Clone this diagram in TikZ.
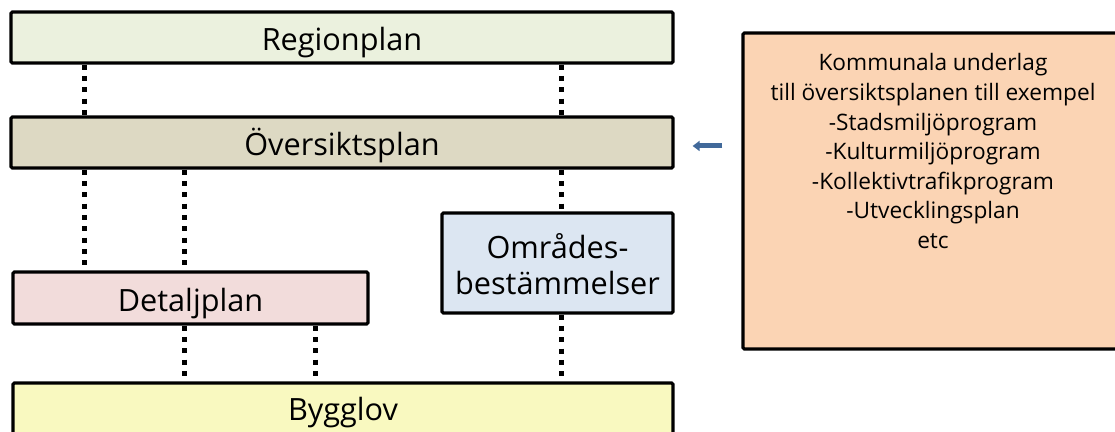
\documentclass[tikz,border=0pt]{standalone}
\usepackage{fontspec}
\setmainfont{Open Sans}
\usetikzlibrary{arrows.meta}

\definecolor{regioncol}{HTML}{EBF1DE}
\definecolor{oversiktcol}{HTML}{DDD9C3}
\definecolor{detaljcol}{HTML}{F2DCDB}
\definecolor{omradecol}{HTML}{DCE6F2}
\definecolor{bygglovcol}{HTML}{F9F9C0}
\definecolor{kommcol}{HTML}{FBD4B4}
\definecolor{arrowcol}{HTML}{41699A}

\begin{document}
\begin{tikzpicture}[x=0.75pt,y=-0.75pt,
    planbox/.style={draw=black,line width=2.4pt,rounded corners=1pt,inner sep=0pt,align=center,
        text height=23pt,text depth=3pt,font=\fontsize{23}{24}\selectfont},
    dotline/.style={line width=3.75pt,dash pattern=on 3.75pt off 4.75pt},
    fromarrow/.style={arrowcol,line width=3.75pt,-{Triangle[length=5.25pt,width=7.5pt]}}]
    \useasboundingbox (0,0) rectangle (1115,432);
    % columns of the dotted links
    \coordinate (colA) at (84,0);
    \coordinate (colB) at (184,0);
    \coordinate (colC) at (315,0);
    \coordinate (colD) at (561,0);
    \node [planbox,fill=regioncol,minimum width=496.5pt,minimum height=38.25pt] (region) at (342,37.5) {Regionplan};
    \node [planbox,fill=oversiktcol,minimum width=496.5pt,minimum height=38.25pt] (oversikt) at (342,142.5) {Översiktsplan};
    \node [planbox,fill=detaljcol,minimum width=266.25pt,minimum height=39pt] (detalj) at (190.5,298) {Detaljplan};
    \node [planbox,fill=omradecol,minimum width=173.25pt,minimum height=75pt,
        text height=49.5pt,font=\fontsize{23}{27}\selectfont] (omrade) at (557.5,263) {Områdes-\\bestämmelser};
    \node [planbox,fill=bygglovcol,minimum width=495pt,minimum height=46.5pt,text height=12pt] (bygglov) at (343,414) {Bygglov};
    \node [planbox,fill=kommcol,minimum width=285pt,minimum height=237pt,
        label={[anchor=north,yshift=-16.5pt,inner sep=0pt,align=center,
        font=\fontsize{17}{22.2}\selectfont]north:Kommunala underlag\\till översiktsplanen till exempel\\-Stadsmiljöprogram\\-Kulturmiljöprogram\\-Kollektivtrafikprogram\\-Utvecklingsplan\\etc}] (komm) at (933,191) {};
    \begin{scope}[dotline]
    \draw (region.south -| colA) -- (oversikt.north -| colA);
    \draw (region.south -| colD) -- (oversikt.north -| colD);
    \draw (oversikt.south -| colA) -- (detalj.north -| colA);
    \draw (oversikt.south -| colB) -- (detalj.north -| colB);
    \draw (oversikt.south -| colD) -- (omrade.north -| colD);
    \draw (detalj.south -| colB) -- (bygglov.north -| colB);
    \draw (detalj.south -| colC) -- (bygglov.north -| colC);
    \draw (omrade.south -| colD) -- (bygglov.north -| colD);
    \end{scope}
    \draw [fromarrow,shorten >=13.5pt,shorten <=14.25pt] ([yshift=-2.6pt]komm.west |- oversikt.east) -- ([yshift=-2.6pt]oversikt.east);
\end{tikzpicture}
\end{document}
